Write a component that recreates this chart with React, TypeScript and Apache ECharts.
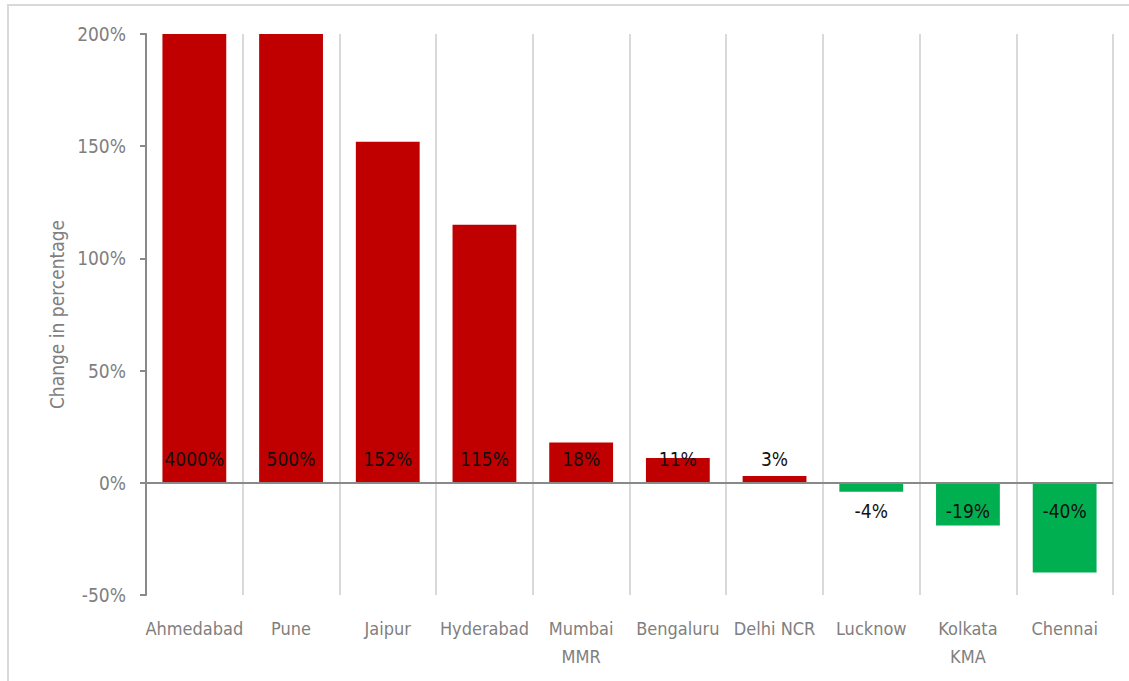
import React, { useEffect, useRef } from "react";
import * as echarts from "echarts";

const categories = ["Ahmedabad", "Pune", "Jaipur", "Hyderabad", "Mumbai\nMMR", "Bengaluru", "Delhi NCR", "Lucknow", "Kolkata\nKMA", "Chennai"];
const values = [4000, 500, 152, 115, 18, 11, 3, -4, -19, -40];
const yTicks = { min: -50, max: 200, interval: 50 };
const yAxisTitle = "Change in percentage";

const FONT = "'Liberation Sans Narrow', 'DejaVu Sans Condensed', Roboto, sans-serif";

export default function App() {
  const ref = useRef<HTMLDivElement>(null);
  useEffect(() => {
    document.body.style.margin = "0";
    const chart = echarts.init(ref.current!, null, { renderer: "svg" });
    chart.setOption({
      animation: false,
      backgroundColor: "#ffffff",
      textStyle: { fontFamily: FONT },
      graphic: [
        {
          type: "rect",
          shape: { x: 8, y: 5, width: 1140, height: 700 },
          style: { fill: "none", stroke: "#d9d9d9", lineWidth: 2 },
          silent: true,
        },
      ],
      grid: { left: 146, right: 16, top: 34, bottom: 86, containLabel: false },
      xAxis: {
        type: "category",
        data: categories,
        axisLine: { show: false, onZero: false },
        axisTick: { show: false },
        splitLine: { show: true, lineStyle: { color: "#d9d9d9", width: 2 } },
        axisLabel: {
          color: "#7f7f7f",
          fontFamily: FONT,
          fontSize: 18,
          lineHeight: 28,
          margin: 19,
          interval: 0,
        },
      },
      yAxis: {
        type: "value",
        min: yTicks.min,
        max: yTicks.max,
        interval: yTicks.interval,
        name: yAxisTitle,
        nameLocation: "middle",
        nameGap: 68,
        nameRotate: 90,
        nameTextStyle: { color: "#7f7f7f", fontFamily: FONT, fontSize: 19 },
        axisLine: { show: true, lineStyle: { color: "#898989", width: 2 } },
        axisTick: { show: true, length: 6, lineStyle: { color: "#898989", width: 2 } },
        splitLine: { show: false },
        axisLabel: {
          color: "#7f7f7f",
          fontFamily: FONT,
          fontSize: 19,
          margin: 20,
          formatter: (v: number) => `${v}%`,
        },
      },
      series: [
        {
          type: "bar",
          barWidth: "66%",
          clip: true,
          data: values.map((v) => ({
            value: v,
            itemStyle: { color: v >= 0 ? "#C00000" : "#00B050" },
            label: {
              show: true,
              position: v >= 0 ? "insideBottom" : "insideTop",
              distance: v >= 0 ? 14 : 19,
              color: "#111111",
              fontFamily: FONT,
              fontSize: 19,
              formatter: `${v}%`,
            },
          })),
          markLine: {
            silent: true,
            symbol: "none",
            label: { show: false },
            lineStyle: { color: "#898989", width: 2, type: "solid" },
            data: [{ yAxis: 0 }],
          },
        },
      ],
    });
    return () => chart.dispose();
  }, []);
  return <div ref={ref} style={{ width: 1129, height: 681 }} />;
}
